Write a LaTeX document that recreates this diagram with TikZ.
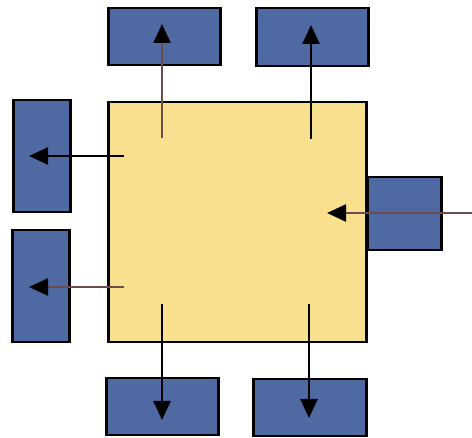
\documentclass[tikz,border=0pt]{standalone}
\usetikzlibrary{arrows.meta}
\definecolor{boxblue}{HTML}{4F69A3}
\definecolor{sqyellow}{HTML}{F9E08F}
\definecolor{arrbrown}{HTML}{6A4E4E}
\begin{document}
\begin{tikzpicture}[x=1pt,y=-1pt,
  bluebox/.style={draw=black,line width=2.5pt,fill=boxblue,inner sep=0pt,anchor=north west},
  sq/.style={draw=black,line width=2.5pt,fill=sqyellow,inner sep=0pt,anchor=north west},
  arr/.style={line width=2.5pt,-{Triangle[width=17pt,length=19pt,color=black]}}]
\useasboundingbox (0,0) rectangle (472,438);
\fill[white] (0,0) rectangle (472,438);
\node[sq,minimum width=258pt,minimum height=240pt] (main) at (107,101) {};
\node[bluebox,minimum width=112pt,minimum height=57pt] (t1) at (107,7) {};
\node[bluebox,minimum width=112pt,minimum height=58pt] (t2) at (255,7) {};
\node[bluebox,minimum width=57pt,minimum height=112pt] (l1) at (12,99) {};
\node[bluebox,minimum width=57pt,minimum height=112pt] (l2) at (11,229) {};
\node[bluebox,minimum width=74pt,minimum height=73pt] (r1) at (366,176) {};
\node[bluebox,minimum width=112pt,minimum height=57pt] (b1) at (105,377) {};
\node[bluebox,minimum width=113pt,minimum height=57pt] (b2) at (252,378) {};
\coordinate (s1) at (162,138); \coordinate (e1) at (162,24);
\coordinate (s2) at (311,139); \coordinate (e2) at (311,25);
\coordinate (s3) at (124,156); \coordinate (e3) at (29,156);
\coordinate (s4) at (124,287); \coordinate (e4) at (29,287);
\coordinate (s5) at (472,213); \coordinate (e5) at (327,213);
\coordinate (s6) at (162,304); \coordinate (e6) at (162,420);
\coordinate (s7) at (309,304); \coordinate (e7) at (309,418);
\draw[arr,arrbrown] (s1) -- (e1);
\draw[arr,black] (s2) -- (e2);
\draw[arr,black] (s3) -- (e3);
\draw[arr,arrbrown] (s4) -- (e4);
\draw[arr,arrbrown] (s5) -- (e5);
\draw[arr,black] (s6) -- (e6);
\draw[arr,black] (s7) -- (e7);
\end{tikzpicture}
\end{document}
